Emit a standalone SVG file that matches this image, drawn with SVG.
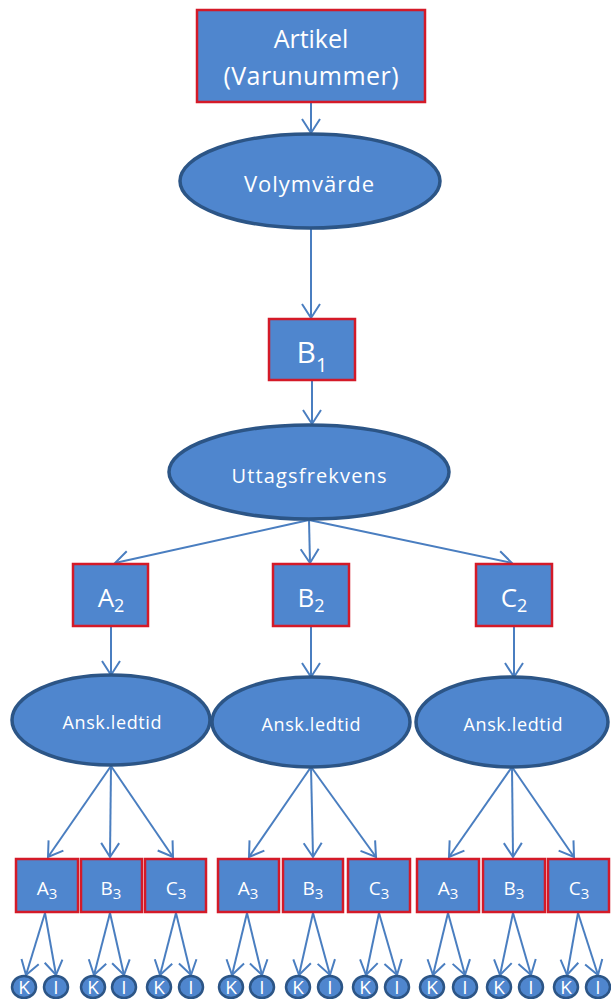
<svg xmlns="http://www.w3.org/2000/svg" width="611" height="999" viewBox="0 0 611 999">
  <defs>
    <marker id="arrow" markerUnits="userSpaceOnUse" viewBox="-16 -11 18 22" markerWidth="18" markerHeight="22" refX="0" refY="0" orient="auto">
      <path d="M-14,-9 L0,0 L-14,9" fill="none" stroke="#4A7EC0" stroke-width="2"/>
    </marker>
  </defs>
  <style>
    .box { fill: #4F86CE; stroke: #D41A28; stroke-width: 2.5; }
    .oval { fill: #4F86CE; stroke: #2C5586; stroke-width: 3.5; }
    .dot { fill: #4F86CE; stroke: #2C5586; stroke-width: 2.5; }
    .lbl { fill: #FFFFFF; font-family: "Open Sans", "Liberation Sans", sans-serif; text-anchor: middle; }
    .leaf { fill: #FFFFFF; font-family: "Open Sans", "Liberation Sans", sans-serif; text-anchor: middle; font-size: 19px; }
    .edge { fill: none; stroke: #4A7EC0; stroke-width: 2; marker-end: url(#arrow); }
  </style>

  <!-- connectors -->
  <g id="connectors">
    <line class="edge" x1="311" y1="102" x2="311" y2="133"/>
    <line class="edge" x1="311" y1="228" x2="311" y2="318"/>
    <line class="edge" x1="312" y1="380" x2="312" y2="424"/>
    <line class="edge" x1="309" y1="520" x2="115" y2="563"/>
    <line class="edge" x1="309" y1="520" x2="310" y2="563"/>
    <line class="edge" x1="309" y1="520" x2="512" y2="563"/>
    <line class="edge" x1="111" y1="626" x2="111" y2="675"/>
    <line class="edge" x1="311" y1="626" x2="311" y2="677"/>
    <line class="edge" x1="514" y1="626" x2="514" y2="677"/>
    <line class="edge" x1="111" y1="766" x2="48" y2="857"/>
    <line class="edge" x1="111" y1="766" x2="110" y2="857"/>
    <line class="edge" x1="111" y1="766" x2="173" y2="857"/>
    <line class="edge" x1="311" y1="767" x2="249" y2="857"/>
    <line class="edge" x1="311" y1="767" x2="313" y2="857"/>
    <line class="edge" x1="311" y1="767" x2="376" y2="857"/>
    <line class="edge" x1="512" y1="767" x2="449" y2="857"/>
    <line class="edge" x1="512" y1="767" x2="513" y2="857"/>
    <line class="edge" x1="512" y1="767" x2="574" y2="857"/>
    <!-- leaf fans -->
    <line class="edge" x1="45" y1="913" x2="26" y2="975"/>
    <line class="edge" x1="45" y1="913" x2="56" y2="975"/>
    <line class="edge" x1="110" y1="913" x2="94" y2="975"/>
    <line class="edge" x1="110" y1="913" x2="124" y2="975"/>
    <line class="edge" x1="176" y1="913" x2="160" y2="975"/>
    <line class="edge" x1="176" y1="913" x2="191" y2="975"/>
    <line class="edge" x1="247" y1="913" x2="232" y2="975"/>
    <line class="edge" x1="247" y1="913" x2="262" y2="975"/>
    <line class="edge" x1="313" y1="913" x2="299" y2="975"/>
    <line class="edge" x1="313" y1="913" x2="330" y2="975"/>
    <line class="edge" x1="379" y1="913" x2="366" y2="975"/>
    <line class="edge" x1="379" y1="913" x2="397" y2="975"/>
    <line class="edge" x1="448" y1="913" x2="433" y2="975"/>
    <line class="edge" x1="448" y1="913" x2="465" y2="975"/>
    <line class="edge" x1="513" y1="913" x2="500" y2="975"/>
    <line class="edge" x1="513" y1="913" x2="531" y2="975"/>
    <line class="edge" x1="578" y1="913" x2="567" y2="975"/>
    <line class="edge" x1="578" y1="913" x2="598" y2="975"/>
  </g>

  <!-- top levels -->
  <g id="artikel">
    <rect class="box" x="197" y="10" width="228" height="92"/>
    <text class="lbl" x="311" y="48" font-size="25">Artikel</text>
    <text class="lbl" x="311" y="85" font-size="25" textLength="175" lengthAdjust="spacing">(Varunummer)</text>
  </g>
  <g id="volymvarde">
    <ellipse class="oval" cx="310" cy="181" rx="130" ry="47"/>
    <text class="lbl" x="309" y="192" font-size="22" textLength="130" lengthAdjust="spacing">Volymvärde</text>
  </g>
  <g id="b1">
    <rect class="box" x="269" y="319" width="86" height="61"/>
    <text class="lbl" x="312" y="363" font-size="30">B<tspan font-size="20" dy="9">1</tspan></text>
  </g>
  <g id="uttagsfrekvens">
    <ellipse class="oval" cx="309" cy="472" rx="140" ry="47"/>
    <text class="lbl" x="309" y="483" font-size="20" textLength="155" lengthAdjust="spacing">Uttagsfrekvens</text>
  </g>

  <!-- second level -->
  <g id="a2">
    <rect class="box" x="73" y="564" width="75" height="62"/>
    <text class="lbl" x="111" y="607" font-size="26">A<tspan font-size="18" dy="5">2</tspan></text>
  </g>
  <g id="b2">
    <rect class="box" x="273" y="564" width="76" height="62"/>
    <text class="lbl" x="311" y="607" font-size="26">B<tspan font-size="18" dy="5">2</tspan></text>
  </g>
  <g id="c2">
    <rect class="box" x="476" y="564" width="76" height="62"/>
    <text class="lbl" x="514" y="607" font-size="26">C<tspan font-size="18" dy="5">2</tspan></text>
  </g>

  <g id="ledtid-a">
    <ellipse class="oval" cx="111" cy="720" rx="99" ry="45"/>
    <text class="lbl" x="112" y="729" font-size="18" textLength="99" lengthAdjust="spacing">Ansk.ledtid</text>
  </g>
  <g id="ledtid-b">
    <ellipse class="oval" cx="311" cy="722" rx="99" ry="45"/>
    <text class="lbl" x="311" y="731" font-size="18" textLength="99" lengthAdjust="spacing">Ansk.ledtid</text>
  </g>
  <g id="ledtid-c">
    <ellipse class="oval" cx="512" cy="722" rx="96" ry="45"/>
    <text class="lbl" x="513" y="731" font-size="18" textLength="99" lengthAdjust="spacing">Ansk.ledtid</text>
  </g>

  <!-- third level -->
  <g id="a3-a"><rect class="box" x="16" y="859" width="62" height="53"/><text class="lbl" x="47" y="895" font-size="19">A<tspan font-size="15" dy="4">3</tspan></text></g>
  <g id="b3-a"><rect class="box" x="81" y="859" width="61" height="53"/><text class="lbl" x="111" y="895" font-size="19">B<tspan font-size="15" dy="4">3</tspan></text></g>
  <g id="c3-a"><rect class="box" x="145" y="859" width="61" height="53"/><text class="lbl" x="176" y="895" font-size="19">C<tspan font-size="15" dy="4">3</tspan></text></g>
  <g id="a3-b"><rect class="box" x="218" y="859" width="61" height="53"/><text class="lbl" x="248" y="895" font-size="19">A<tspan font-size="15" dy="4">3</tspan></text></g>
  <g id="b3-b"><rect class="box" x="283" y="859" width="60" height="53"/><text class="lbl" x="313" y="895" font-size="19">B<tspan font-size="15" dy="4">3</tspan></text></g>
  <g id="c3-b"><rect class="box" x="348" y="859" width="62" height="53"/><text class="lbl" x="379" y="895" font-size="19">C<tspan font-size="15" dy="4">3</tspan></text></g>
  <g id="a3-c"><rect class="box" x="417" y="859" width="62" height="53"/><text class="lbl" x="448" y="895" font-size="19">A<tspan font-size="15" dy="4">3</tspan></text></g>
  <g id="b3-c"><rect class="box" x="483" y="859" width="62" height="53"/><text class="lbl" x="514" y="895" font-size="19">B<tspan font-size="15" dy="4">3</tspan></text></g>
  <g id="c3-c"><rect class="box" x="548" y="859" width="61" height="53"/><text class="lbl" x="579" y="895" font-size="19">C<tspan font-size="15" dy="4">3</tspan></text></g>

  <!-- leaves -->
  <g id="k1"><ellipse class="dot" cx="24" cy="987" rx="12" ry="11"/><text class="leaf" x="24" y="994">K</text></g>
  <g id="i1"><ellipse class="dot" cx="56" cy="987" rx="12" ry="11"/><text class="leaf" x="56" y="994">I</text></g>
  <g id="k2"><ellipse class="dot" cx="93" cy="987" rx="12" ry="11"/><text class="leaf" x="93" y="994">K</text></g>
  <g id="i2"><ellipse class="dot" cx="124" cy="987" rx="12" ry="11"/><text class="leaf" x="124" y="994">I</text></g>
  <g id="k3"><ellipse class="dot" cx="159" cy="987" rx="12" ry="11"/><text class="leaf" x="159" y="994">K</text></g>
  <g id="i3"><ellipse class="dot" cx="191" cy="987" rx="12" ry="11"/><text class="leaf" x="191" y="994">I</text></g>
  <g id="k4"><ellipse class="dot" cx="231" cy="987" rx="12" ry="11"/><text class="leaf" x="231" y="994">K</text></g>
  <g id="i4"><ellipse class="dot" cx="262" cy="987" rx="12" ry="11"/><text class="leaf" x="262" y="994">I</text></g>
  <g id="k5"><ellipse class="dot" cx="298" cy="987" rx="12" ry="11"/><text class="leaf" x="298" y="994">K</text></g>
  <g id="i5"><ellipse class="dot" cx="330" cy="987" rx="12" ry="11"/><text class="leaf" x="330" y="994">I</text></g>
  <g id="k6"><ellipse class="dot" cx="365" cy="987" rx="12" ry="11"/><text class="leaf" x="365" y="994">K</text></g>
  <g id="i6"><ellipse class="dot" cx="397" cy="987" rx="12" ry="11"/><text class="leaf" x="397" y="994">I</text></g>
  <g id="k7"><ellipse class="dot" cx="432" cy="987" rx="12" ry="11"/><text class="leaf" x="432" y="994">K</text></g>
  <g id="i7"><ellipse class="dot" cx="465" cy="987" rx="12" ry="11"/><text class="leaf" x="465" y="994">I</text></g>
  <g id="k8"><ellipse class="dot" cx="499" cy="987" rx="12" ry="11"/><text class="leaf" x="499" y="994">K</text></g>
  <g id="i8"><ellipse class="dot" cx="531" cy="987" rx="12" ry="11"/><text class="leaf" x="531" y="994">I</text></g>
  <g id="k9"><ellipse class="dot" cx="566" cy="987" rx="12" ry="11"/><text class="leaf" x="566" y="994">K</text></g>
  <g id="i9"><ellipse class="dot" cx="598" cy="987" rx="12" ry="11"/><text class="leaf" x="598" y="994">I</text></g>
</svg>
